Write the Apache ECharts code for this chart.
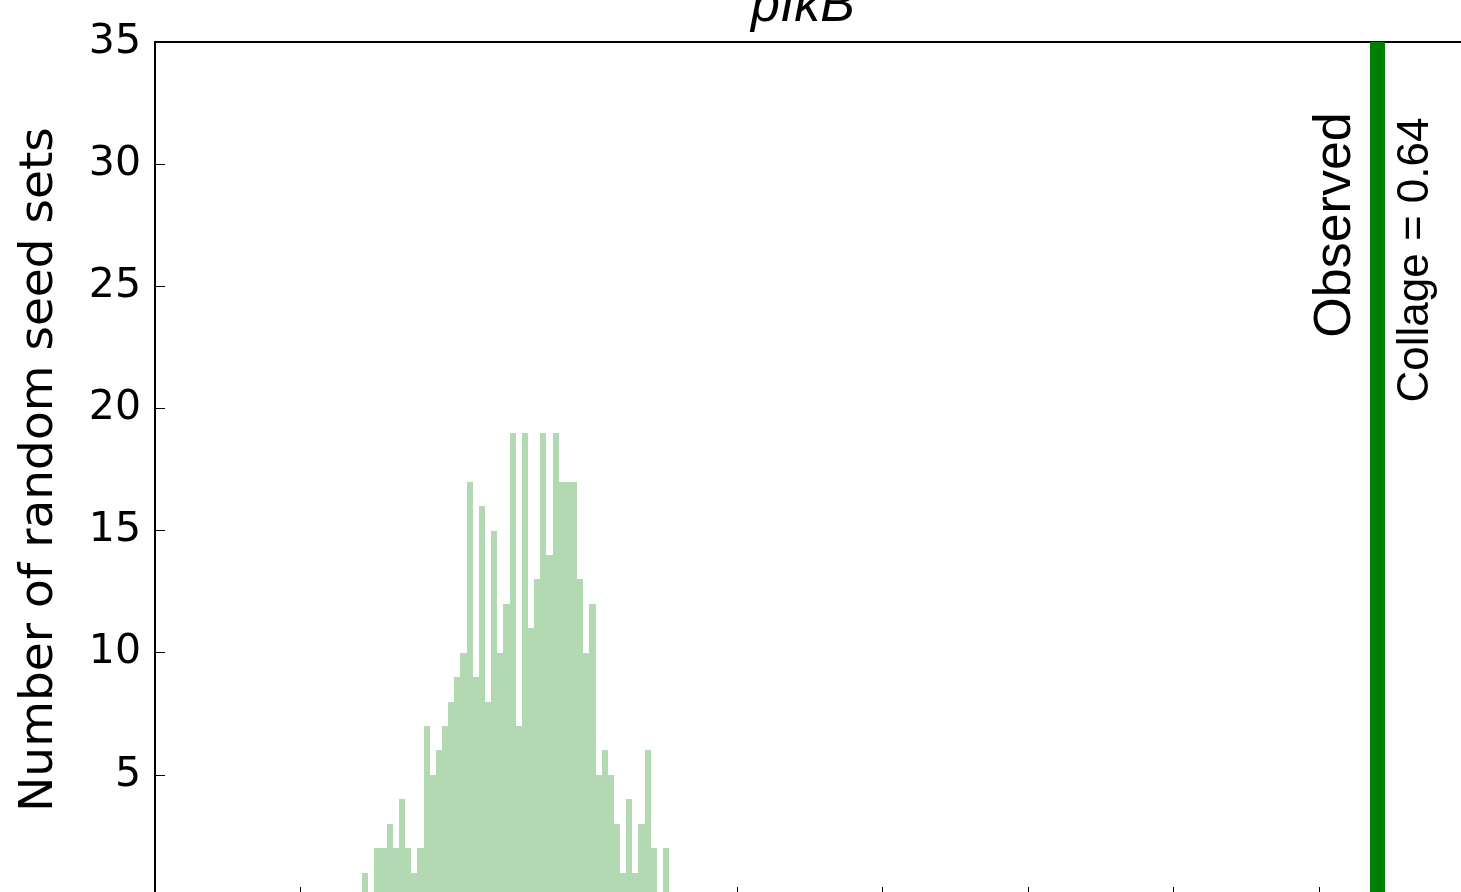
<!DOCTYPE html>
<html>
<head>
<meta charset="utf-8">
<script src="https://cdn.jsdelivr.net/npm/echarts@6/dist/echarts.min.js"></script>
<style>
html,body{margin:0;padding:0;background:#fff;}
#chart{width:1461px;height:892px;}
</style>
</head>
<body>
<div id="chart"></div>
<script>
// ---- data ----
const titleText = 'pIkB';
const yAxisTitle = 'Number of random seed sets';
const observedLabel = 'Observed';
const collageLabel = 'Collage = 0.64';
const observedValue = 0.6403;

// histogram bin edges (51 edges -> 50 bins)
const binEdges = [
  0.29120, 0.29331, 0.29542, 0.29753, 0.29964, 0.30175, 0.30386, 0.30597, 0.30808, 0.31019,
  0.31230, 0.31441, 0.31652, 0.31863, 0.32074, 0.32285, 0.32496, 0.32707, 0.32918, 0.33129,
  0.33340, 0.33551, 0.33762, 0.33973, 0.34184, 0.34395, 0.34606, 0.34817, 0.35028, 0.35239,
  0.35450, 0.35661, 0.35872, 0.36083, 0.36294, 0.36505, 0.36716, 0.36927, 0.37138, 0.37349,
  0.37560, 0.37771, 0.37982, 0.38193, 0.38404, 0.38615, 0.38826, 0.39037, 0.39248, 0.39459,
  0.39670
];
// counts per bin
const binCounts = [
  1, 0, 2, 2, 3, 2, 4, 2, 1, 2,
  7, 5, 6, 7, 8, 9, 10, 17, 9, 16,
  8, 15, 10, 12, 19, 7, 19, 11, 13, 19,
  14, 19, 17, 17, 17, 13, 10, 12, 5, 6,
  5, 3, 1, 4, 1, 3, 6, 2, 0, 2
];

const xTickValues = [0.27, 0.32, 0.37, 0.42, 0.47, 0.52, 0.57, 0.62];
const xMin = 0.22, xMax = 0.67;
const yMin = 0, yMax = 35, yStep = 5;

// ---- build ----
const histData = binCounts.map((c, i) => [binEdges[i], binEdges[i + 1], c]);

const chart = echarts.init(document.getElementById('chart'), null, {renderer: 'canvas'});
chart.setOption({
  animation: false,
  backgroundColor: '#ffffff',
  grid: {
    left: 155, top: 42, right: -3.5, bottom: -5,
    outerBoundsMode: 'none',
    containLabel: false,
    show: true, borderColor: '#000', borderWidth: 2, backgroundColor: 'transparent'
  },
  xAxis: {
    type: 'value', min: xMin, max: xMax,
    axisLine: {show: false},
    splitLine: {show: false},
    axisLabel: {show: false, customValues: xTickValues},
    axisTick: {show: true, inside: true, length: 10, customValues: xTickValues,
               lineStyle: {color: '#000', width: 1}}
  },
  yAxis: {
    type: 'value', min: yMin, max: yMax, interval: yStep,
    axisLine: {show: true, lineStyle: {color: '#000', width: 2}},
    splitLine: {show: false},
    axisTick: {show: true, inside: true, length: 10, lineStyle: {color: '#000', width: 1}},
    axisLabel: {
      color: '#000', fontFamily: 'DejaVu Sans', fontSize: 41, margin: 14,
      formatter: v => (v === 0 ? '' : String(v))
    },
    name: yAxisTitle,
    nameLocation: 'middle',
    nameRotate: 90,
    nameGap: 92,
    nameTextStyle: {color: '#000', fontFamily: 'DejaVu Sans', fontSize: 47}
  },
  series: [{
    type: 'custom',
    data: histData,
    encode: {x: [0, 1], y: 2},
    renderItem: function (params, api) {
      const p0 = api.coord([api.value(0), api.value(2)]);
      const p1 = api.coord([api.value(1), 0]);
      const x0 = Math.round(p0[0]), x1 = Math.round(p1[0]);
      const y0 = Math.round(p0[1]);
      return {
        type: 'rect',
        shape: {x: x0, y: y0, width: x1 - x0, height: p1[1] - y0},
        style: {fill: '#b3d9b3'}
      };
    },
    markLine: {
      silent: true, symbol: 'none',
      label: {show: false},
      lineStyle: {color: '#008000', width: 15, type: 'solid'},
      data: [{xAxis: observedValue}]
    },
    z: 2
  }],
  graphic: [
    {
      type: 'text', x: 803, y: 33, z: 10,
      style: {text: titleText, textAlign: 'center', textVerticalAlign: 'bottom',
              font: 'italic 52px "Liberation Sans", Arial, sans-serif', fill: '#000'}
    },
    {
      type: 'text', x: 1336, y: 225, rotation: Math.PI / 2, z: 10,
      style: {text: observedLabel, textAlign: 'center', textVerticalAlign: 'middle',
              font: '52px "Liberation Sans", Arial, sans-serif', fill: '#000'}
    },
    {
      type: 'text', x: 1416, y: 260, rotation: Math.PI / 2, z: 10,
      style: {text: collageLabel, textAlign: 'center', textVerticalAlign: 'middle',
              font: '44px "Liberation Sans", Arial, sans-serif', fill: '#000'}
    }
  ]
});
</script>
</body>
</html>
